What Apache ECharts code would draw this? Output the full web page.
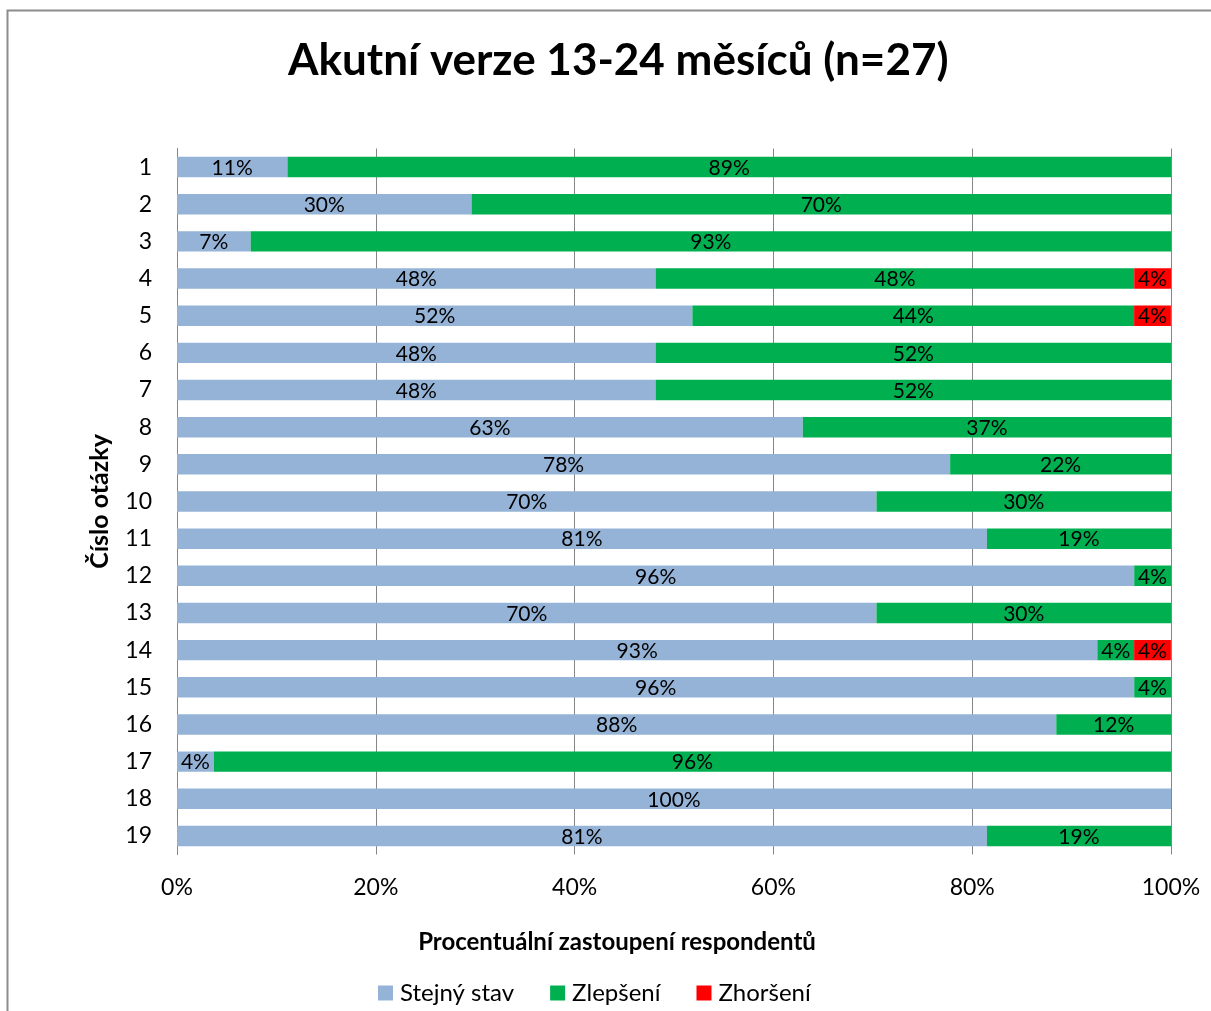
<!DOCTYPE html>
<html>
<head>
<meta charset="utf-8">
<title>Akutní verze 13-24 měsíců (n=27)</title>
<script src="https://cdn.jsdelivr.net/npm/echarts@6/dist/echarts.min.js"></script>
<style>
  html, body { margin: 0; padding: 0; background: #ffffff; }
  #chart { width: 1211px; height: 1011px; }
</style>
</head>
<body>
<div id="chart"></div>
<script>
// Question numbers (top to bottom)
const questions = ['1','2','3','4','5','6','7','8','9','10','11','12','13','14','15','16','17','18','19'];

// Share of respondents per answer, in percent
const stejnyStav = [11.11, 29.63, 7.41, 48.15, 51.85, 48.15, 48.15, 62.96, 77.78, 70.37, 81.48, 96.30, 70.37, 92.59, 96.30, 88.46, 3.70, 100, 81.48];
const zlepseni   = [88.89, 70.37, 92.59, 48.15, 44.44, 51.85, 51.85, 37.04, 22.22, 29.63, 18.52, 3.70, 29.63, 3.70, 3.70, 11.54, 96.30, 0, 18.52];
const zhorseni   = [0, 0, 0, 3.70, 3.70, 0, 0, 0, 0, 0, 0, 0, 0, 3.70, 0, 0, 0, 0, 0];

const seriesNames = ['Stejný stav', 'Zlepšení', 'Zhoršení'];
const xTicks = [0, 20, 40, 60, 80, 100];

const FONT = 'Lato, "Noto Sans", sans-serif';

const chart = echarts.init(document.getElementById('chart'), null, { renderer: 'canvas' });

function barSeries(name, data, color) {
  return {
    name: name,
    type: 'bar',
    stack: 'total',
    data: data,
    barWidth: '55%',
    itemStyle: { color: color },
    label: {
      show: true,
      position: 'inside',
      offset: [0, 1],
      color: '#000000',
      fontFamily: FONT,
      fontSize: 21,
      formatter: p => (p.value > 0 ? Math.round(p.value) + '%' : '')
    },
    emphasis: { disabled: true }
  };
}

chart.setOption({
  animation: false,
  backgroundColor: '#ffffff',
  textStyle: { fontFamily: FONT },
  title: {
    text: 'Akutní verze 13-24 měsíců (n=27)',
    left: 283,
    top: 34,
    textStyle: { fontFamily: FONT, fontSize: 44, fontWeight: 'bold', color: '#000000' }
  },
  graphic: [{
    type: 'rect',
    shape: { x: 7.5, y: 10.5, width: 1220, height: 1020 },
    style: { fill: 'none', stroke: '#8c8c8c', lineWidth: 2 },
    silent: true
  }],
  legend: {
    bottom: 1,
    left: 373,
    itemWidth: 15,
    itemHeight: 15,
    itemGap: 36,
    icon: 'rect',
    textStyle: { fontFamily: FONT, fontSize: 24, color: '#000000', padding: [0, 0, 0, 2] },
    data: seriesNames
  },
  grid: { left: 177, right: 40, top: 148.5, height: 706 },
  xAxis: {
    type: 'value',
    min: 0,
    max: 100,
    interval: 20,
    name: 'Procentuální zastoupení respondentů',
    nameLocation: 'middle',
    nameGap: 76,
    nameTextStyle: { fontFamily: FONT, fontSize: 24, fontWeight: 'bold', color: '#000000', padding: [0, 114, 0, 0] },
    axisLine: { show: false },
    axisTick: { show: false },
    splitLine: { show: true, lineStyle: { color: '#868686', width: 1 } },
    axisLabel: {
      margin: 22,
      fontFamily: FONT,
      fontSize: 23,
      color: '#000000',
      formatter: v => (xTicks.indexOf(v) >= 0 ? v + '%' : '')
    }
  },
  yAxis: {
    type: 'category',
    inverse: true,
    data: questions,
    name: 'Číslo otázky',
    nameLocation: 'middle',
    nameGap: 65,
    nameRotate: 90,
    nameTextStyle: { fontFamily: FONT, fontSize: 25, fontWeight: 'bold', color: '#000000' },
    axisLine: { show: true, lineStyle: { color: '#868686' } },
    axisTick: { show: false },
    axisLabel: { margin: 25, fontFamily: FONT, fontSize: 23, color: '#000000' }
  },
  series: [
    barSeries(seriesNames[0], stejnyStav, '#95b3d7'),
    barSeries(seriesNames[1], zlepseni, '#00b050'),
    barSeries(seriesNames[2], zhorseni, '#ff0000')
  ]
});
</script>
</body>
</html>
